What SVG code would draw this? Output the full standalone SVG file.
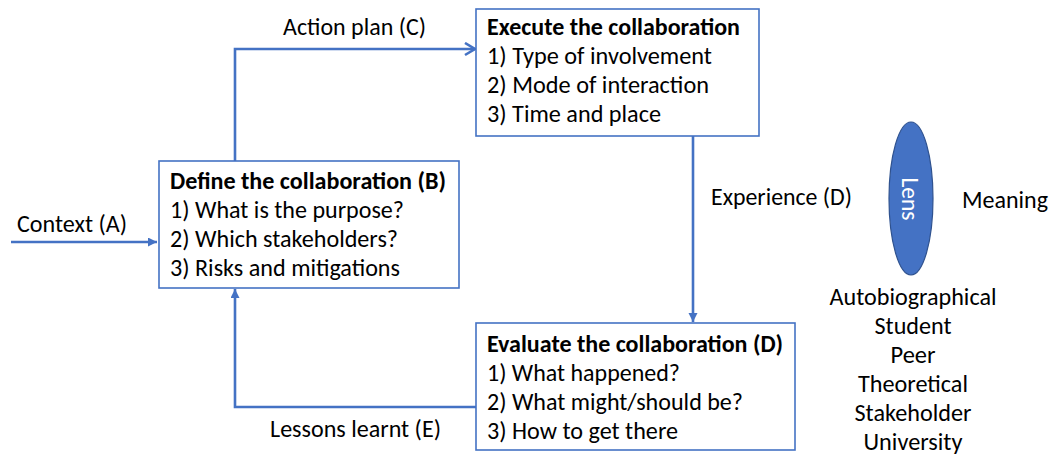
<svg xmlns="http://www.w3.org/2000/svg" width="1051" height="455" viewBox="0 0 1051 455">
<style>
text{font-family:Carlito,Calibri,Lato,"Liberation Sans",sans-serif;font-size:24px;fill:#000}
.b{font-weight:bold}
.box{fill:#fff;stroke:#4472C4;stroke-width:1.6}
.con{fill:none;stroke:#4472C4;stroke-width:2.6}
.m{text-anchor:middle}
</style>
<defs>
<marker id="tri" markerUnits="userSpaceOnUse" markerWidth="10" markerHeight="10" refX="9" refY="4.5" orient="auto" viewBox="0 0 10 10">
<path d="M0,0 L9,4.5 L0,9 z" fill="#4472C4"/>
</marker>
<marker id="chev" markerUnits="userSpaceOnUse" markerWidth="14" markerHeight="16" refX="11" refY="7" orient="auto" viewBox="0 0 14 16">
<path d="M1,1 L11,7 L1,13" fill="none" stroke="#4472C4" stroke-width="2.6"/>
</marker>
</defs>
<rect width="1051" height="455" fill="#fff"/>
<g id="connectors">
<path class="con" d="M11,242 H157" marker-end="url(#tri)"/>
<path class="con" d="M235,161 V49 H475" marker-end="url(#chev)"/>
<path class="con" d="M693,136 V322" marker-end="url(#tri)"/>
<path class="con" d="M476,407 H235 V289" marker-end="url(#tri)"/>
<text x="17" y="232" textLength="110" lengthAdjust="spacingAndGlyphs">Context (A)</text>
<text x="283" y="35" textLength="143" lengthAdjust="spacingAndGlyphs">Action plan (C)</text>
<text x="711" y="205" textLength="141" lengthAdjust="spacingAndGlyphs">Experience (D)</text>
<text x="270" y="437" textLength="171" lengthAdjust="spacingAndGlyphs">Lessons learnt (E)</text>
</g>
<g id="define">
<rect class="box" x="159" y="161" width="300" height="127"/>
<text class="b" x="170" y="189" textLength="276" lengthAdjust="spacingAndGlyphs">Define the collaboration (B)</text>
<text x="170" y="218" textLength="234" lengthAdjust="spacingAndGlyphs">1) What is the purpose?</text>
<text x="170" y="247" textLength="228" lengthAdjust="spacingAndGlyphs">2) Which stakeholders?</text>
<text x="170" y="276" textLength="230" lengthAdjust="spacingAndGlyphs">3) Risks and mitigations</text>
</g>
<g id="execute">
<rect class="box" x="476" y="9" width="283" height="127"/>
<text class="b" x="487" y="35" textLength="253" lengthAdjust="spacingAndGlyphs">Execute the collaboration</text>
<text x="487" y="64" textLength="225" lengthAdjust="spacingAndGlyphs">1) Type of involvement</text>
<text x="487" y="93" textLength="222" lengthAdjust="spacingAndGlyphs">2) Mode of interaction</text>
<text x="487" y="122" textLength="174" lengthAdjust="spacingAndGlyphs">3) Time and place</text>
</g>
<g id="evaluate">
<rect class="box" x="476" y="323" width="319" height="127"/>
<text class="b" x="487" y="352" textLength="296" lengthAdjust="spacingAndGlyphs">Evaluate the collaboration (D)</text>
<text x="487" y="381" textLength="193" lengthAdjust="spacingAndGlyphs">1) What happened?</text>
<text x="487" y="410" textLength="256" lengthAdjust="spacingAndGlyphs">2) What might/should be?</text>
<text x="487" y="439" textLength="191" lengthAdjust="spacingAndGlyphs">3) How to get there</text>
</g>
<g id="lens">
<ellipse cx="911" cy="198.5" rx="22" ry="76.5" fill="#4472C4" stroke="#2F528F" stroke-width="1.2"/>
<text class="m" transform="translate(902,199) rotate(90)" textLength="43" lengthAdjust="spacingAndGlyphs" style="fill:#fff">Lens</text>
</g>
<g id="meaning">
<text x="962" y="208" textLength="86" lengthAdjust="spacingAndGlyphs">Meaning</text>
</g>
<g id="lenses">
<text class="m" x="913" y="305" textLength="167" lengthAdjust="spacingAndGlyphs">Autobiographical</text>
<text class="m" x="913" y="334" textLength="77" lengthAdjust="spacingAndGlyphs">Student</text>
<text class="m" x="913" y="363" textLength="45" lengthAdjust="spacingAndGlyphs">Peer</text>
<text class="m" x="913" y="392" textLength="110" lengthAdjust="spacingAndGlyphs">Theoretical</text>
<text class="m" x="913" y="421" textLength="117" lengthAdjust="spacingAndGlyphs">Stakeholder</text>
<text class="m" x="913" y="450" textLength="99" lengthAdjust="spacingAndGlyphs">University</text>
</g>
</svg>
